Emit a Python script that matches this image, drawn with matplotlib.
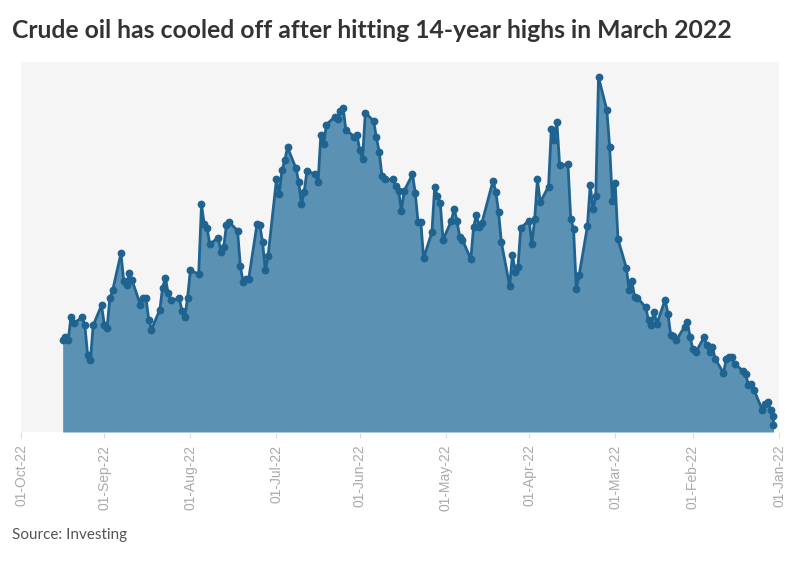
import matplotlib
matplotlib.use("Agg")
import matplotlib.pyplot as plt
import matplotlib.dates as mdates
import pandas as pd

# Brent crude closes, newest first (one row per trading week)
closes = [
    91.0, 91.4, 90.9, 94.2, 93.3,        # 16-12 Sep
    94.1, 93.0, 88.8, 88.1, 93.0,        # 9-5 Sep
    95.8, 93.1, 92.6, 96.8, 97.9,        # 2 Sep - 29 Aug
    103.1, 99.2, 98.6, 100.4, 99.3,      # 26-22 Aug
    95.9, 96.9, 96.8, 93.8, 92.4,        # 19-15 Aug
    95.2, 98.3, 99.7, 97.5, 96.5,        # 12-8 Aug
    96.8, 95.0, 94.1, 96.9, 100.7,       # 5-1 Aug
    100.2, 110.0, 107.2, 106.7, 104.4,   # 29-25 Jul
    105.3, 103.3, 104.0, 107.1, 107.5,   # 22-18 Jul
    106.3, 101.3, 99.1, 99.5, 99.5,      # 15-11 Jul
    107.2, 107.1, 104.7, 100.7, 102.8,   # 8-4 Jul
    113.5, 111.5, 114.8, 116.2, 118.0,   # 1 Jul - 27 Jun
    115.1, 113.2, 110.0, 111.8, 114.7,   # 24-20 Jun
    114.2, 113.2, 119.8, 118.5, 121.2,   # 17-13 Jun
    122.3, 122.0, 123.1, 123.6, 120.5,   # 10-6 Jun
    119.5, 119.8, 117.6, 116.3, 122.9,   # 3 Jun - 30 May
    121.7, 119.4, 117.4, 114.0, 113.5,   # 27-23 May
    113.5, 112.6, 111.9, 109.1, 111.9,   # 20-16 May
    114.2, 111.6, 107.5, 107.5, 102.4,   # 13-9 May
    106.1, 112.5, 111.1, 110.2, 105.0,   # 6-2 May
    107.7, 109.4, 107.7, 105.4, 105.0,   # 29-25 Apr
    102.3, 106.8, 108.5, 106.8, 107.4,   # 22-18 Apr
    113.3, 111.8, 108.9, 104.7,          # 14-11 Apr (Good Friday closed)
    98.5, 102.9, 100.5, 101.2, 106.7,    # 8-4 Apr
    107.7, 104.4, 107.9, 113.5, 110.3,   # 1 Apr - 28 Mar
    112.5, 120.6, 119.1, 121.6, 115.5,   # 25-21 Mar
    115.6, 107.9, 106.6, 98.1, 100.0,    # 18-14 Mar
    106.9, 112.7, 109.3, 111.1, 127.9,   # 11-7 Mar
    123.2, 118.1, 110.5, 113.0, 105.1,   # 4 Mar - 28 Feb
    101.1, 98.0, 99.2, 97.0, 96.9,       # 25-21 Feb
    95.5, 93.7, 93.1, 94.9, 93.2,        # 18-14 Feb
    96.6, 94.6, 91.6, 91.5, 90.9,        # 11-7 Feb
    92.8, 93.4, 91.3, 89.6, 89.2,        # 4 Feb - 31 Jan
    91.3, 90.2, 89.3, 90.0, 88.3,        # 28-24 Jan
    86.3, 88.2, 88.6, 88.5, 87.6,        # 21-17 Jan
    86.6, 86.1, 84.6, 84.8, 83.9,        # 14-10 Jan
    81.1, 81.9, 82.2, 81.1, 80.2,        # 7-3 Jan
    79.0,                                # last row of the table, also on 3 Jan
]

# trading days, newest first (ICE closed on Good Friday)
days = pd.bdate_range("2022-01-03", "2022-09-16")
days = days[days != pd.Timestamp("2022-04-15")][::-1]
days = days.append(pd.DatetimeIndex(["2022-01-03"]))

title = "Crude oil has cooled off after hitting 14-year highs in March 2022"
source = "Source: Investing"

fill_col = "#5b92b3"
line_col = "#1f6390"

fig = plt.figure(figsize=(7.96, 5.75), dpi=100)
ax = fig.add_axes([21 / 796, 1 - 432 / 575, 758 / 796, 370 / 575])
ax.set_facecolor("#f5f5f5")

ax.fill_between(days, closes, 78, color=fill_col, lw=0)
ax.plot(days, closes, color=line_col, lw=2, marker="o", ms=4.6, zorder=3)

ax.set_xlim(pd.Timestamp("2022-10-01"), pd.Timestamp("2022-01-01"))
ax.set_ylim(78, 130)

ax.xaxis.set_major_locator(mdates.MonthLocator())
ax.xaxis.set_major_formatter(mdates.DateFormatter("%d-%b-%y"))
ax.tick_params(axis="x", rotation=90, colors="#dddddd", labelcolor="#aaaaaa",
               length=4, pad=5, labelsize=10)
for lab in ax.get_xticklabels():
    lab.set_family("Liberation Sans")
ax.set_yticks([])
for s in ax.spines.values():
    s.set_visible(False)

fig.text(12 / 796, 1 - 30 / 575, title, fontsize=17.8, fontweight="bold",
         family="Lato", color="#333333", va="center")
fig.text(12 / 796, 1 - 535 / 575, source, fontsize=11, family="Lato",
         color="#555555", va="center")

fig.savefig("out.png", dpi=100)
